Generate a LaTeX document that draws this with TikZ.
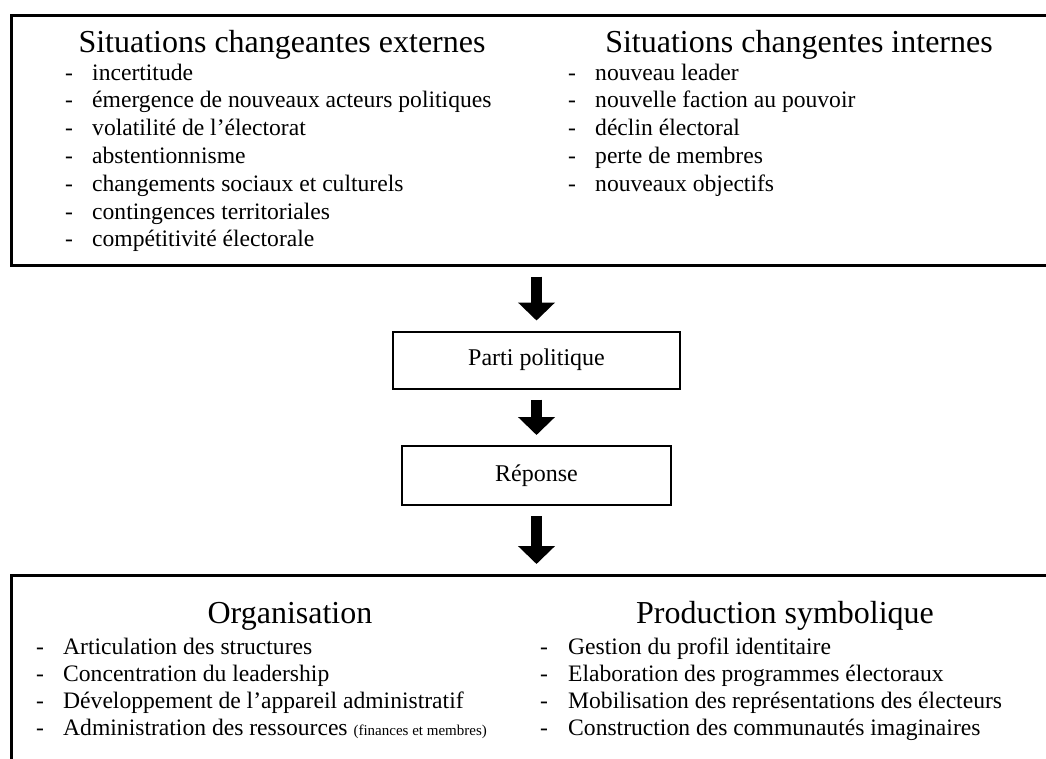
\documentclass[tikz,border=0pt]{standalone}
\usepackage{fontspec}
\setmainfont{Liberation Serif}
\usetikzlibrary{arrows.meta}
\tikzset{
  bigbox/.style={draw, line width=2.6pt, minimum width=1053pt, minimum height=250pt, anchor=north west, inner sep=0pt},
  smallbox/.style={draw, line width=2pt, inner sep=0pt, font=\fontsize{24}{28}\selectfont},
  heading/.style={anchor=base, inner sep=0pt, font=\fontsize{32}{38}\selectfont},
  item/.style={anchor=base west, inner sep=0pt, font=\fontsize{23.6}{28}\selectfont},
  dashmark/.style={anchor=base, inner sep=0pt, font=\fontsize{23.6}{28}\selectfont},
  blockarrow/.style={line width=11pt, line cap=butt, -{Triangle[width=36pt,length=18pt]}, shorten <=10pt, shorten >=10pt}
}
\begin{document}
\begin{tikzpicture}[x=1pt,y=-1pt]
\useasboundingbox (0,0) rectangle (1046,758);
\fill[white] (0,0) rectangle (1046,758);

% top box
\node[bigbox] (situations) at (10,14) {};
\node[heading] (hext) at (282,52) {Situations changeantes externes};
\node[heading] (hint) at (799,52) {Situations changentes internes};

\foreach \t [count=\i from 0] in {incertitude,
  émergence de nouveaux acteurs politiques,
  volatilité de l’électorat,
  abstentionnisme,
  changements sociaux et culturels,
  contingences territoriales,
  compétitivité électorale}{
  \node[dashmark] (ed\i) at (69,80+27.8*\i) {-};
  \node[item] (ex\i) at (92,80+27.8*\i) {\t};
}
\foreach \t [count=\i from 0] in {nouveau leader,
  nouvelle faction au pouvoir,
  déclin électoral,
  perte de membres,
  nouveaux objectifs}{
  \node[dashmark] (id\i) at (572,80+27.8*\i) {-};
  \node[item] (in\i) at (595,80+27.8*\i) {\t};
}

% middle
\node[smallbox, minimum width=287pt, minimum height=57pt] (parti) at (536.5,360) {Parti politique};
\node[smallbox, minimum width=269pt, minimum height=59pt] (reponse) at (536.5,475.5) {Réponse};

% bottom box
\node[bigbox] (resultat) at (10,574) {};
\node[heading] (horg) at (290,623) {Organisation};
\node[heading] (hprod) at (785,623) {Production symbolique};

\foreach \t [count=\i from 0] in {Articulation des structures,
  Concentration du leadership,
  Développement de l’appareil administratif,
  {Administration des ressources {\fontsize{15}{18}\selectfont(finances et membres)}}}{
  \node[dashmark] (od\i) at (40,654+27*\i) {-};
  \node[item] (or\i) at (63,654+27*\i) {\t};
}
\foreach \t [count=\i from 0] in {Gestion du profil identitaire,
  Elaboration des programmes électoraux,
  Mobilisation des représentations des électeurs,
  Construction des communautés imaginaires}{
  \node[dashmark] (pd\i) at (544,654+27*\i) {-};
  \node[item] (pr\i) at (568,654+27*\i) {\t};
}

% arrows
\draw[blockarrow] (situations.south -| parti.north) -- (parti.north);
\draw[blockarrow] (parti.south) -- (reponse.north);
\draw[blockarrow] (reponse.south) -- (resultat.north -| reponse.south);
\end{tikzpicture}
\end{document}
